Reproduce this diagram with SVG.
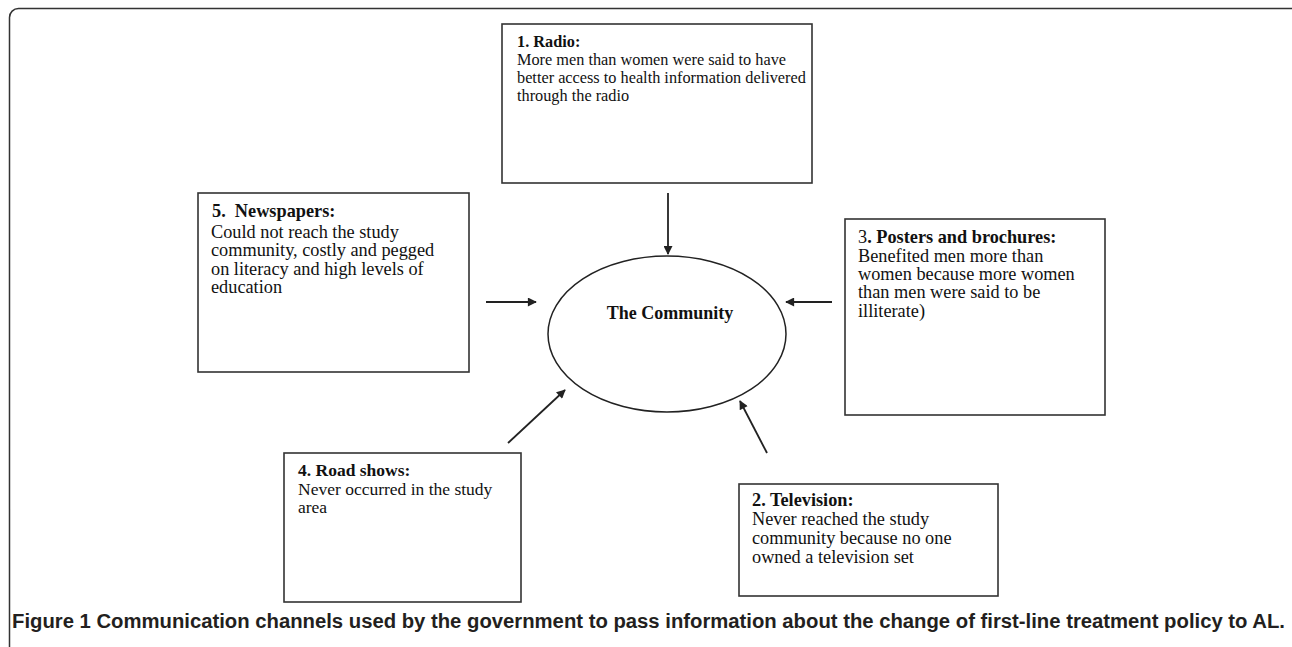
<svg xmlns="http://www.w3.org/2000/svg" width="1292" height="647" viewBox="0 0 1292 647">
<defs>
<style>
.box{fill:#fff;stroke:#333;stroke-width:1.6}
.t{font-family:"Liberation Serif","Times New Roman",serif;font-size:18.3px;fill:#111}
.r{font-size:16.3px}
.b{font-weight:bold}
.c{stroke:#222;stroke-width:1.8;fill:none;marker-end:url(#ah)}
.cap{font-family:"Liberation Sans",Arial,sans-serif;font-size:20px;font-weight:bold;fill:#231f20}
</style>
<marker id="ah" viewBox="0 0 10 10" refX="9" refY="5" markerWidth="11" markerHeight="9" markerUnits="userSpaceOnUse" orient="auto">
<path d="M0,0 L10,5 L0,10 z" fill="#222"/>
</marker>
</defs>
<rect x="0" y="0" width="1292" height="647" fill="#fff"/>
<rect id="frame" x="9.5" y="8.5" width="1290" height="648" rx="9" fill="none" stroke="#333" stroke-width="1.5"/>

<g id="community">
<ellipse cx="667" cy="334" rx="119" ry="78" fill="none" stroke="#222" stroke-width="1.5"/>
<text class="t b" x="670" y="319" text-anchor="middle" style="font-size:18px">The Community</text>
</g>

<g id="radio">
<rect class="box" x="502" y="24" width="310" height="159"/>
<text class="t r b" x="517" y="47">1. Radio:</text>
<text class="t r" x="517" y="65">More men than women were said to have</text>
<text class="t r" x="517" y="83">better access to health information delivered</text>
<text class="t r" x="517" y="101">through the radio</text>
</g>

<g id="newspapers">
<rect class="box" x="198" y="193" width="271" height="179"/>
<text class="t b" x="212" y="217" xml:space="preserve">5.  Newspapers:</text>
<text class="t" x="211" y="238">Could not reach the study</text>
<text class="t" x="211" y="256">community, costly and pegged</text>
<text class="t" x="211" y="275">on literacy and high levels of</text>
<text class="t" x="211" y="293">education</text>
</g>

<g id="posters">
<rect class="box" x="845" y="219" width="260" height="196"/>
<text class="t" x="858" y="243">3<tspan class="b">. Posters and brochures:</tspan></text>
<text class="t" x="858" y="262">Benefited men more than</text>
<text class="t" x="858" y="280">women because more women</text>
<text class="t" x="858" y="298">than men were said to be</text>
<text class="t" x="858" y="317">illiterate)</text>
</g>

<g id="roadshows">
<rect class="box" x="284" y="453" width="237" height="149"/>
<text class="t b" x="298" y="476" style="font-size:17.5px">4. Road shows:</text>
<text class="t" x="298" y="495" style="font-size:17.5px">Never occurred in the study</text>
<text class="t" x="298" y="513" style="font-size:17.5px">area</text>
</g>

<g id="television">
<rect class="box" x="739" y="484" width="259" height="112"/>
<text class="t b" x="752" y="506">2. Television:</text>
<text class="t" x="752" y="525">Never reached the study</text>
<text class="t" x="752" y="544">community because no one</text>
<text class="t" x="752" y="563">owned a television set</text>
</g>

<g id="connectors">
<line class="c" x1="668" y1="193" x2="668" y2="254"/>
<line class="c" x1="486" y1="302" x2="536" y2="302"/>
<line class="c" x1="832" y1="302" x2="786" y2="302"/>
<line class="c" x1="508" y1="443" x2="565" y2="390"/>
<line class="c" x1="767" y1="453" x2="740" y2="401"/>
</g>

<text id="caption" class="cap" x="12" y="628" textLength="1273" lengthAdjust="spacingAndGlyphs">Figure 1 Communication channels used by the government to pass information about the change of first-line treatment policy to AL.</text>
</svg>
